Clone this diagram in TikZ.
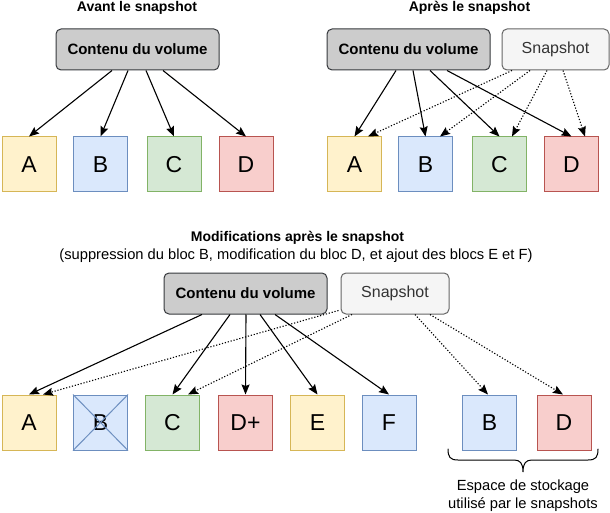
\documentclass[tikz,border=0pt]{standalone}
\usepackage{fontspec}
\setmainfont{Liberation Sans}
\usetikzlibrary{arrows.meta}

\definecolor{yelfill}{HTML}{FFF2CC}\definecolor{yelline}{HTML}{D6B656}
\definecolor{blufill}{HTML}{DAE8FC}\definecolor{bluline}{HTML}{6C8EBF}
\definecolor{grnfill}{HTML}{D5E8D4}\definecolor{grnline}{HTML}{82B366}
\definecolor{redfill}{HTML}{F8CECC}\definecolor{redline}{HTML}{B85450}
\definecolor{volfill}{HTML}{CCCCCC}\definecolor{volline}{HTML}{36393D}
\definecolor{snapfill}{HTML}{F5F5F5}\definecolor{snapline}{HTML}{666666}
\definecolor{snaptext}{HTML}{333333}

\tikzset{
  blk/.style={draw, line width=1pt, minimum width=54pt, minimum height=55pt,
    inner sep=0pt, font=\fontsize{23pt}{27pt}\selectfont},
  yel/.style={blk, fill=yelfill, draw=yelline},
  blu/.style={blk, fill=blufill, draw=bluline},
  grn/.style={blk, fill=grnfill, draw=grnline},
  red/.style={blk, fill=redfill, draw=redline},
  vol/.style={draw=volline, fill=volfill, line width=1pt, rounded corners=5pt,
    minimum width=163pt, minimum height=41pt, inner sep=0pt,
    font=\fontsize{15pt}{18pt}\selectfont\bfseries},
  snap/.style={draw=snapline, fill=snapfill, text=snaptext, line width=1pt,
    rounded corners=5pt, minimum width=107pt, minimum height=41pt, inner sep=0pt,
    font=\fontsize{16pt}{19pt}\selectfont},
  ttl/.style={inner sep=0pt, font=\fontsize{14pt}{17pt}\selectfont\bfseries},
  note/.style={inner sep=0pt, font=\fontsize{14.7pt}{18pt}\selectfont},
  arr/.style={line width=1.1pt, -{Stealth[length=10pt,width=8pt,inset=1.5pt]}},
  darr/.style={arr, dash pattern=on 1.2pt off 1.8pt},
}

\begin{document}
\begin{tikzpicture}[x=1pt, y=-1pt]
\useasboundingbox (0,0) rectangle (610,513);

% ---------- before the snapshot ----------
\node[ttl] (tlttl) at (137,8) {Avant le snapshot};
\node[vol] (tlvol) at (137.5,49.5) {Contenu du volume};
\node[yel] (tla) at (29,164.5) {A};
\node[blu] (tlb) at (100.5,164.5) {B};
\node[grn] (tlc) at (174,164.5) {C};
\node[red] (tld) at (246,164.5) {D};
\draw[arr] ([xshift=-25.5pt]tlvol.south) -- (tla.north);
\draw[arr] ([xshift=-9.5pt]tlvol.south) -- (tlb.north);
\draw[arr] ([xshift=8.5pt]tlvol.south) -- (tlc.north);
\draw[arr] ([xshift=25.5pt]tlvol.south) -- (tld.north);

% ---------- after the snapshot ----------
\node[ttl] (trttl) at (469.5,8) {Après le snapshot};
\node[vol] (trvol) at (408.5,49.5) {Contenu du volume};
\node[snap] (trsnap) at (555.5,49.5) {Snapshot};
\node[yel] (tra) at (354.5,164.5) {A};
\node[blu] (trb) at (425.5,164.5) {B};
\node[grn] (trc) at (499.5,164.5) {C};
\node[red] (trd) at (571.5,164.5) {D};
\draw[arr] ([xshift=-12.5pt]trvol.south) -- (tra.north);
\draw[arr] ([xshift=4.5pt]trvol.south) -- (trb.north);
\draw[arr] ([xshift=21.5pt]trvol.south) -- (trc.north);
\draw[arr] ([xshift=38.5pt]trvol.south) -- (trd.north);
\draw[darr] ([xshift=-43.5pt]trsnap.south) -- ([xshift=13.5pt]tra.north);
\draw[darr] ([xshift=-25.5pt]trsnap.south) -- ([xshift=14.5pt]trb.north);
\draw[darr] ([xshift=-8.5pt]trsnap.south) -- ([xshift=12.5pt]trc.north);
\draw[darr] ([xshift=7.5pt]trsnap.south) -- ([xshift=13.5pt]trd.north);

% ---------- changes after the snapshot ----------
\node[ttl] (btttl) at (297.5,238) {Modifications après le snapshot};
\node[note] (btsub) at (296,256) {(suppression du bloc B, modification du bloc D, et ajout des blocs E et F)};
\node[vol] (btvol) at (245.5,293.5) {Contenu du volume};
\node[snap, minimum width=108pt] (btsnap) at (395,293.5) {Snapshot};
\node[yel] (bta) at (29,422.5) {A};
\node[blu] (btb) at (100.5,422.5) {B};
\draw[bluline, line width=1pt] (btb.north west) -- (btb.south east)
  (btb.south west) -- (btb.north east);
\node[grn] (btc) at (172.5,422.5) {C};
\node[red] (btd) at (245.5,422.5) {D+};
\node[yel] (bte) at (317.5,422.5) {E};
\node[blu] (btf) at (389,422.5) {F};
\node[blu] (btsb) at (489.5,422.5) {B};
\node[red] (btsd) at (564,422.5) {D};

\draw[arr] ([xshift=-43.5pt]btvol.south) -- (bta.north);
\draw[arr] ([xshift=-15.5pt]btvol.south) -- (btc.north);
\draw[arr] ([xshift=0.5pt]btvol.south) -- (btd.north);
\draw[arr] ([xshift=14.5pt]btvol.south) -- (bte.north);
\draw[arr] ([xshift=29.5pt]btvol.south) -- (btf.north);
\draw[darr] ([xshift=-2pt,yshift=4pt]btsnap.south west) -- ([xshift=14pt]bta.north);
\draw[darr] ([xshift=-43pt]btsnap.south) -- ([xshift=15.5pt]btc.north);
\draw[darr] ([xshift=20pt]btsnap.south) -- ([xshift=-1.5pt]btsb.north);
\draw[darr] ([xshift=35pt]btsnap.south) -- ([xshift=-1pt]btsd.north);

% brace under the snapshot blocks
\draw[line width=1pt, line cap=round]
  (448,449) .. controls (448,457) and (450,460) .. (458,460)
  -- (514,460) .. controls (520,460) and (523,463) .. (523,472)
  .. controls (523,463) and (526,460) .. (532,460)
  -- (588,460) .. controls (596,460) and (598,457) .. (598,449);
\node[note] (btlbl1) at (523,487) {Espace de stockage};
\node[note] (btlbl2) at (523,505) {utilisé par le snapshots};
\end{tikzpicture}
\end{document}
